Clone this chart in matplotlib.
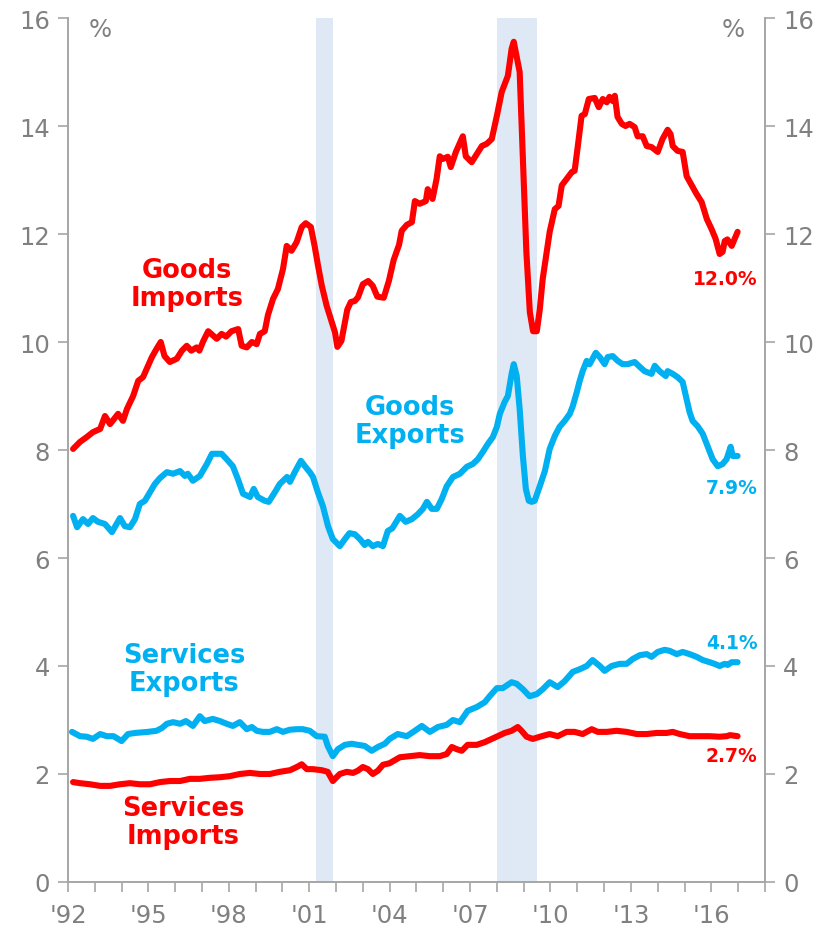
import matplotlib

matplotlib.use("Agg")
import matplotlib.pyplot as plt
from matplotlib.ticker import MultipleLocator

RED, BLUE, GRAY = "#ff0000", "#00b0f0", "#808080"
SHADE = "#dfe9f6"

# ---------------------------------------------------------------- data (% share)
RECESSIONS = [(2001.25, 2001.9), (2008.0, 2009.5)]

gi_year = [1992.19, 1992.45, 1992.70, 1992.93, 1993.20, 1993.38, 1993.57, 1993.87, 1994.05, 1994.20,
           1994.43, 1994.62, 1994.80, 1995.13, 1995.30, 1995.46, 1995.60, 1995.80, 1996.06, 1996.25,
           1996.43, 1996.60, 1996.80, 1996.90, 1997.05, 1997.23, 1997.55, 1997.73, 1997.90, 1998.10,
           1998.35, 1998.48, 1998.67, 1998.86, 1999.04, 1999.16, 1999.34, 1999.46, 1999.65, 1999.83,
           2000.02, 2000.16, 2000.34, 2000.53, 2000.72, 2000.87, 2001.06, 2001.20, 2001.33, 2001.47,
           2001.65, 2001.84, 2001.96, 2002.05, 2002.20, 2002.42, 2002.55, 2002.70, 2002.82, 2003.00,
           2003.20, 2003.37, 2003.54, 2003.78, 2003.97, 2004.15, 2004.35, 2004.45, 2004.64, 2004.83,
           2004.94, 2005.12, 2005.35, 2005.42, 2005.60, 2005.75, 2005.87, 2005.98, 2006.17, 2006.28,
           2006.47, 2006.73, 2006.84, 2007.06, 2007.25, 2007.44, 2007.62, 2007.81, 2008.00, 2008.18,
           2008.41, 2008.55, 2008.63, 2008.74, 2008.85, 2008.98, 2009.10, 2009.23, 2009.35, 2009.49,
           2009.60, 2009.71, 2009.86, 2009.97, 2010.16, 2010.30, 2010.42, 2010.60, 2010.80, 2010.90,
           2011.02, 2011.16, 2011.28, 2011.43, 2011.65, 2011.80, 2011.95, 2012.10, 2012.20, 2012.33,
           2012.40, 2012.50, 2012.66, 2012.80, 2012.95, 2013.14, 2013.25, 2013.44, 2013.59, 2013.77,
           2014.00, 2014.18, 2014.37, 2014.48, 2014.56, 2014.74, 2014.93, 2015.08, 2015.27, 2015.45,
           2015.64, 2015.83, 2016.01, 2016.16, 2016.31, 2016.42, 2016.50, 2016.60, 2016.76, 2016.87,
           2016.98]
gi_val = [8.02, 8.15, 8.24, 8.33, 8.39, 8.63, 8.48, 8.67, 8.54, 8.76,
          9.00, 9.28, 9.35, 9.72, 9.87, 10.00, 9.74, 9.63, 9.69, 9.84,
          9.93, 9.84, 9.90, 9.84, 10.02, 10.20, 10.06, 10.15, 10.10, 10.20,
          10.24, 9.93, 9.90, 10.00, 9.96, 10.15, 10.20, 10.50, 10.80, 10.98,
          11.35, 11.78, 11.69, 11.85, 12.13, 12.20, 12.13, 11.78, 11.41, 11.04,
          10.67, 10.37, 10.18, 9.91, 10.02, 10.60, 10.74, 10.76, 10.83, 11.07,
          11.13, 11.04, 10.84, 10.82, 11.13, 11.52, 11.80, 12.06, 12.17, 12.22,
          12.61, 12.56, 12.61, 12.83, 12.65, 13.02, 13.44, 13.39, 13.43, 13.24,
          13.52, 13.81, 13.44, 13.33, 13.48, 13.63, 13.67, 13.76, 14.19, 14.63,
          14.93, 15.43, 15.56, 15.28, 15.00, 13.26, 11.67, 10.55, 10.20, 10.20,
          10.60, 11.17, 11.67, 12.04, 12.46, 12.52, 12.90, 13.02, 13.15, 13.17,
          13.63, 14.19, 14.22, 14.50, 14.52, 14.35, 14.50, 14.44, 14.54, 14.46,
          14.56, 14.17, 14.04, 14.00, 14.04, 13.98, 13.81, 13.81, 13.63, 13.61,
          13.52, 13.76, 13.93, 13.85, 13.63, 13.54, 13.52, 13.07, 12.90, 12.74,
          12.59, 12.28, 12.09, 11.91, 11.63, 11.67, 11.87, 11.90, 11.78, 11.91,
          12.04]

ge_year = [1992.19, 1992.34, 1992.56, 1992.75, 1992.93, 1993.12, 1993.38, 1993.64, 1993.94, 1994.12,
           1994.31, 1994.50, 1994.68, 1994.87, 1995.06, 1995.24, 1995.43, 1995.69, 1995.92, 1996.18,
           1996.36, 1996.47, 1996.66, 1996.92, 1997.18, 1997.37, 1997.55, 1997.73, 1997.92, 1998.15,
           1998.34, 1998.53, 1998.79, 1998.93, 1999.08, 1999.34, 1999.49, 1999.72, 1999.90, 2000.17,
           2000.28, 2000.46, 2000.69, 2000.84, 2001.02, 2001.14, 2001.32, 2001.51, 2001.70, 2001.88,
           2002.14, 2002.33, 2002.50, 2002.70, 2002.89, 2003.07, 2003.19, 2003.37, 2003.56, 2003.75,
           2003.93, 2004.10, 2004.38, 2004.60, 2004.83, 2005.05, 2005.24, 2005.39, 2005.57, 2005.76,
           2005.94, 2006.13, 2006.36, 2006.62, 2006.88, 2007.10, 2007.29, 2007.47, 2007.66, 2007.85,
           2008.00, 2008.11, 2008.29, 2008.41, 2008.55, 2008.63, 2008.74, 2008.85, 2008.97, 2009.08,
           2009.19, 2009.30, 2009.41, 2009.60, 2009.79, 2009.97, 2010.16, 2010.34, 2010.53, 2010.72,
           2010.83, 2010.98, 2011.09, 2011.20, 2011.35, 2011.46, 2011.57, 2011.69, 2011.84, 2012.02,
           2012.13, 2012.32, 2012.51, 2012.69, 2012.88, 2013.14, 2013.33, 2013.51, 2013.77, 2013.89,
           2014.07, 2014.30, 2014.37, 2014.56, 2014.74, 2014.93, 2015.08, 2015.19, 2015.30, 2015.49,
           2015.68, 2015.86, 2016.05, 2016.24, 2016.42, 2016.57, 2016.72, 2016.80, 2016.98]
ge_val = [6.78, 6.57, 6.72, 6.63, 6.74, 6.67, 6.63, 6.48, 6.74, 6.59,
          6.57, 6.72, 7.00, 7.06, 7.22, 7.37, 7.48, 7.59, 7.56, 7.61,
          7.52, 7.56, 7.43, 7.52, 7.74, 7.93, 7.93, 7.93, 7.83, 7.70,
          7.46, 7.19, 7.13, 7.28, 7.13, 7.06, 7.04, 7.22, 7.37, 7.50,
          7.41, 7.59, 7.80, 7.70, 7.59, 7.50, 7.22, 6.96, 6.59, 6.35,
          6.22, 6.35, 6.46, 6.44, 6.35, 6.24, 6.30, 6.22, 6.26, 6.22,
          6.50, 6.55, 6.78, 6.67, 6.72, 6.81, 6.91, 7.04, 6.91, 6.91,
          7.09, 7.33, 7.50, 7.56, 7.69, 7.74, 7.83, 7.96, 8.11, 8.24,
          8.43, 8.67, 8.89, 9.00, 9.41, 9.59, 9.37, 8.76, 7.89, 7.28,
          7.06, 7.04, 7.06, 7.33, 7.61, 8.02, 8.26, 8.43, 8.54, 8.67,
          8.81, 9.07, 9.28, 9.46, 9.65, 9.59, 9.69, 9.80, 9.72, 9.59,
          9.72, 9.74, 9.65, 9.59, 9.59, 9.63, 9.54, 9.46, 9.41, 9.56,
          9.46, 9.37, 9.46, 9.41, 9.35, 9.26, 8.94, 8.70, 8.54, 8.44,
          8.30, 8.07, 7.83, 7.70, 7.74, 7.83, 8.06, 7.89, 7.89]

se_year = [1992.15, 1992.45, 1992.70, 1992.93, 1993.20, 1993.45, 1993.70, 1994.00, 1994.24, 1994.50,
           1994.98, 1995.30, 1995.50, 1995.69, 1995.92, 1996.18, 1996.40, 1996.66, 1996.92, 1997.10,
           1997.40, 1997.67, 1997.92, 1998.15, 1998.41, 1998.67, 1998.86, 1999.04, 1999.27, 1999.53,
           1999.79, 2000.02, 2000.28, 2000.54, 2000.76, 2001.02, 2001.28, 2001.58, 2001.69, 2001.88,
           2002.07, 2002.33, 2002.59, 2002.81, 2003.07, 2003.33, 2003.56, 2003.82, 2004.00, 2004.30,
           2004.64, 2004.94, 2005.20, 2005.50, 2005.80, 2006.13, 2006.36, 2006.62, 2006.91, 2007.25,
           2007.55, 2007.73, 2008.00, 2008.22, 2008.55, 2008.74, 2008.97, 2009.22, 2009.49, 2009.71,
           2009.97, 2010.27, 2010.53, 2010.83, 2011.09, 2011.35, 2011.57, 2011.84, 2012.02, 2012.28,
           2012.58, 2012.84, 2013.07, 2013.33, 2013.59, 2013.77, 2014.00, 2014.26, 2014.45, 2014.71,
           2014.93, 2015.19, 2015.45, 2015.68, 2015.94, 2016.12, 2016.31, 2016.50, 2016.61, 2016.76,
           2016.98]
se_val = [2.78, 2.70, 2.69, 2.65, 2.74, 2.70, 2.70, 2.61, 2.74, 2.76,
          2.78, 2.80, 2.85, 2.93, 2.96, 2.93, 2.98, 2.89, 3.07, 2.98,
          3.02, 2.98, 2.93, 2.89, 2.96, 2.83, 2.87, 2.80, 2.78, 2.78,
          2.83, 2.78, 2.82, 2.83, 2.83, 2.80, 2.70, 2.69, 2.52, 2.33,
          2.46, 2.54, 2.56, 2.54, 2.52, 2.43, 2.50, 2.56, 2.65, 2.74,
          2.70, 2.80, 2.89, 2.78, 2.87, 2.91, 3.00, 2.96, 3.17, 3.24,
          3.33, 3.44, 3.59, 3.59, 3.70, 3.67, 3.57, 3.44, 3.48, 3.57,
          3.70, 3.61, 3.72, 3.89, 3.94, 4.00, 4.11, 4.00, 3.91, 4.00,
          4.04, 4.04, 4.13, 4.20, 4.22, 4.17, 4.26, 4.30, 4.28, 4.22,
          4.26, 4.22, 4.17, 4.11, 4.07, 4.04, 4.00, 4.04, 4.02, 4.07,
          4.07]

si_year = [1992.19, 1992.45, 1992.82, 1993.20, 1993.57, 1993.94, 1994.31, 1994.68, 1995.06, 1995.43,
           1995.80, 1996.18, 1996.55, 1996.92, 1997.30, 1997.67, 1998.04, 1998.41, 1998.79, 1999.16,
           1999.53, 1999.90, 2000.28, 2000.54, 2000.72, 2000.91, 2001.13, 2001.47, 2001.69, 2001.88,
           2002.14, 2002.40, 2002.63, 2002.81, 2003.00, 2003.19, 2003.37, 2003.56, 2003.75, 2004.00,
           2004.38, 2004.75, 2005.12, 2005.50, 2005.87, 2006.13, 2006.32, 2006.50, 2006.69, 2006.91,
           2007.25, 2007.55, 2007.81, 2008.03, 2008.29, 2008.55, 2008.78, 2008.92, 2009.11, 2009.34,
           2009.67, 2009.97, 2010.27, 2010.60, 2010.90, 2011.20, 2011.54, 2011.76, 2012.10, 2012.47,
           2012.84, 2013.22, 2013.59, 2013.96, 2014.33, 2014.56, 2014.82, 2015.19, 2015.56, 2015.94,
           2016.31, 2016.57, 2016.70, 2016.98]
si_val = [1.85, 1.83, 1.81, 1.78, 1.78, 1.81, 1.83, 1.81, 1.81, 1.85,
          1.87, 1.87, 1.91, 1.91, 1.93, 1.94, 1.96, 2.00, 2.02, 2.00,
          2.00, 2.04, 2.07, 2.13, 2.18, 2.09, 2.09, 2.07, 2.04, 1.87,
          2.00, 2.04, 2.02, 2.06, 2.13, 2.09, 2.00, 2.06, 2.17, 2.20,
          2.31, 2.33, 2.35, 2.33, 2.33, 2.37, 2.50, 2.46, 2.43, 2.54,
          2.54, 2.59, 2.65, 2.70, 2.76, 2.80, 2.87, 2.80, 2.69, 2.65,
          2.70, 2.74, 2.70, 2.78, 2.78, 2.74, 2.83, 2.78, 2.78, 2.80,
          2.78, 2.74, 2.74, 2.76, 2.76, 2.78, 2.74, 2.70, 2.70, 2.70,
          2.69, 2.70, 2.72, 2.70]

XTICK_YEARS = [1992, 1995, 1998, 2001, 2004, 2007, 2010, 2013, 2016]
XTICK_LABELS = ["'92", "'95", "'98", "'01", "'04", "'07", "'10", "'13", "'16"]

# ---------------------------------------------------------------- figure
plt.rcParams["font.family"] = ["DejaVu Sans"]
fig = plt.figure(figsize=(8.25, 9.28), dpi=100)
ax = fig.add_axes([0.0824, 0.0485, 0.8448, 0.931])

for a, b in RECESSIONS:
    ax.axvspan(a, b, color=SHADE, lw=0, zorder=0)

kw = dict(lw=4.4, solid_joinstyle="round", solid_capstyle="round", zorder=3)
ax.plot(gi_year, gi_val, color=RED, **kw)
ax.plot(ge_year, ge_val, color=BLUE, **kw)
ax.plot(se_year, se_val, color=BLUE, **kw)
ax.plot(si_year, si_val, color=RED, **kw)

ax.set_xlim(1992, 2018)
ax.set_ylim(0, 16)
ax.set_xticks(XTICK_YEARS)
ax.set_xticklabels(XTICK_LABELS)
ax.xaxis.set_minor_locator(MultipleLocator(1))
ax.yaxis.set_major_locator(MultipleLocator(2))

ax2 = ax.twinx()
ax2.set_ylim(0, 16)
ax2.yaxis.set_major_locator(MultipleLocator(2))

for a in (ax, ax2):
    for s in a.spines.values():
        s.set_color("#a6a6a6")
        s.set_linewidth(1.2)
    a.spines["top"].set_visible(False)
    a.tick_params(which="both", color="#a6a6a6", width=1.2, length=7,
                  labelcolor=GRAY, labelsize=17.5, direction="out")
ax.tick_params(axis="x", pad=8)
ax.tick_params(axis="y", pad=6)
ax2.tick_params(axis="y", pad=6)

# ---------------------------------------------------------------- labels
ax.text(1993.2, 15.8, "%", color=GRAY, fontsize=17.5, ha="center", va="center")
ax.text(2016.8, 15.8, "%", color=GRAY, fontsize=17.5, ha="center", va="center")

lab = dict(fontsize=18.5, fontweight="bold", ha="center", va="center", linespacing=1.12)
ax.text(1996.44, 11.07, "Goods\nImports", color=RED, **lab)
ax.text(2004.75, 8.54, "Goods\nExports", color=BLUE, **lab)
ax.text(1996.33, 3.94, "Services\nExports", color=BLUE, **lab)
ax.text(1996.29, 1.11, "Services\nImports", color=RED, **lab)

end = dict(fontsize=13.5, fontweight="bold", ha="right", va="center")
ax.text(2017.73, 11.17, f"{gi_val[-1]:.1f}%", color=RED, **end)
ax.text(2017.73, 7.31, f"{ge_val[-1]:.1f}%", color=BLUE, **end)
ax.text(2017.73, 4.44, f"{se_val[-1]:.1f}%", color=BLUE, **end)
ax.text(2017.73, 2.35, f"{si_val[-1]:.1f}%", color=RED, **end)

fig.savefig("out.png", dpi=100)
